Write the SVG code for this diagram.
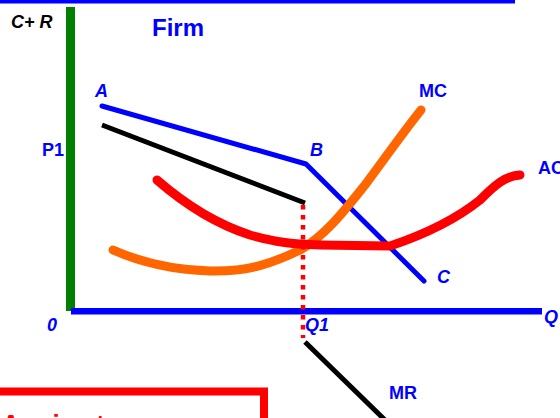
<svg xmlns="http://www.w3.org/2000/svg" width="560" height="418" viewBox="0 0 560 418">
<style>
.lbl{font-family:"Liberation Sans",Arial,sans-serif;font-weight:bold;font-size:18px;fill:#0000ff}
.it{font-style:italic}
.curve{fill:none;stroke-linecap:round;stroke-linejoin:round}
</style>
<rect width="560" height="418" fill="#ffffff"/>
<rect x="0" y="0" width="515" height="3.5" fill="#0000ff"/>
<g id="axes">
<rect x="66" y="7" width="9" height="304" fill="#008000"/>
<rect x="71" y="308" width="471" height="6.5" fill="#0000ff"/>
</g>
<g id="labels">
<text x="11" y="27.5" class="lbl it" style="fill:#000000">C+ R</text>
<text x="152" y="35.5" class="lbl" style="font-size:24px">Firm</text>
<text x="95" y="97" class="lbl it">A</text>
<text x="419" y="97" class="lbl">MC</text>
<text x="42" y="156" class="lbl">P1</text>
<text x="310" y="156" class="lbl it">B</text>
<text x="538" y="174" class="lbl">AC</text>
<text x="437" y="283" class="lbl it">C</text>
<text x="47" y="331" class="lbl it">0</text>
<text x="305" y="331" class="lbl it">Q1</text>
<text x="544" y="323" class="lbl it">Q</text>
<text x="389" y="398.5" class="lbl">MR</text>
</g>
<g id="connectors">
<polyline id="demand" class="curve" points="102,106 306,164 424,281" stroke="#0000ff" stroke-width="5" stroke-linecap="butt"/>
<line id="mr-upper" x1="102" y1="125" x2="305" y2="203" stroke="#000000" stroke-width="5"/>
<line id="mr-lower" x1="305" y1="342" x2="386" y2="421" stroke="#000000" stroke-width="5"/>
<path id="mc" class="curve" d="M113,250 C140,262 170,270 210,271 C250,272 275,262 300,250 C325,236 345,210 365,185 C385,158 405,130 421,110" stroke="#ff6600" stroke-width="9"/>
<path id="ac" class="curve" d="M157,180 C180,200 210,222 250,235 C275,242 290,244 320,245 L390,246 C420,236 455,220 480,200 C495,185 505,176 520,175" stroke="#ff0000" stroke-width="9"/>
<line id="q1-drop" x1="303" y1="205" x2="303" y2="338" stroke="#ff0000" stroke-width="4.5" stroke-dasharray="4.5 5.5"/>
</g>
<g id="note">
<polyline points="-10,391.5 264,391.5 264,430" fill="none" stroke="#ff0000" stroke-width="8"/>
<text x="1.5" y="432.5" style="font-family:'Liberation Sans',Arial,sans-serif;font-weight:bold;font-size:26px;fill:#ff0000">A price t</text>
</g>
</svg>
